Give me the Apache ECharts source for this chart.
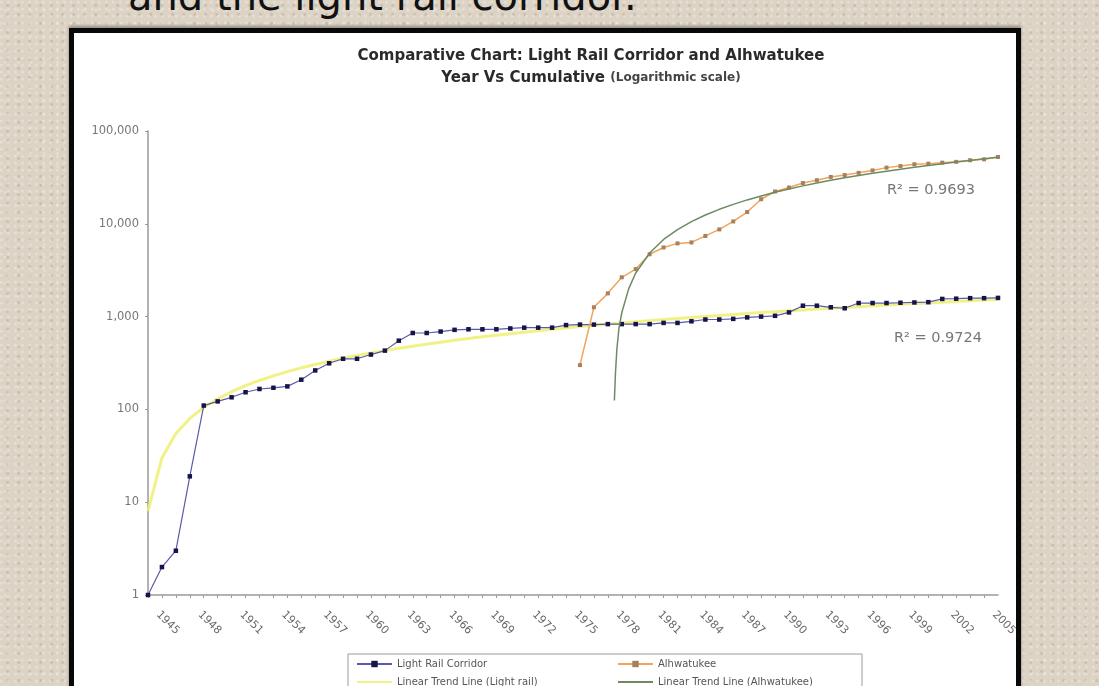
<!DOCTYPE html>
<html>
<head>
<meta charset="utf-8">
<script src="https://cdn.jsdelivr.net/npm/echarts/dist/echarts.min.js"></script>
<style>
  html, body { margin: 0; padding: 0; width: 1099px; height: 686px; overflow: hidden; }
  body {
    position: relative;
    background-color: #dcd3c5;
    background-image:
      radial-gradient(circle at 20% 30%, rgba(255,255,255,0.25) 0 1px, transparent 2px),
      radial-gradient(circle at 70% 60%, rgba(120,100,80,0.18) 0 1px, transparent 2px),
      radial-gradient(circle at 40% 80%, rgba(255,255,255,0.2) 0 1px, transparent 2px);
    background-size: 7px 7px, 11px 9px, 13px 13px;
  }
  #heading {
    position: absolute; left: 128px; top: -24px;
    font: 40px "DejaVu Sans", Verdana, sans-serif; line-height: 40px;
    color: #111; white-space: nowrap;
  }
  #frame {
    position: absolute; left: 69px; top: 28px; width: 942px; height: 700px;
    background: #fff; border: 5px solid #080808;
    box-shadow: 0 -2px 3px rgba(0,0,0,0.35);
  }
  #chart { position: absolute; left: 0; top: 0; width: 1099px; height: 686px; }
</style>
</head>
<body>
<div id="heading">and the light rail corridor.</div>
<div id="frame"></div>
<div id="chart"></div>
<script>
// year categories, one per point (labels every third year)
const years = [1945, 1946, 1947, 1948, 1949, 1950, 1951, 1952, 1953, 1954,
  1955, 1956, 1957, 1958, 1959, 1960, 1961, 1962, 1963, 1964,
  1965, 1966, 1967, 1968, 1969, 1970, 1971, 1972, 1973, 1974,
  1975, 1976, 1977, 1978, 1979, 1980, 1981, 1982, 1983, 1984,
  1985, 1986, 1987, 1988, 1989, 1990, 1991, 1992, 1993, 1994,
  1995, 1996, 1997, 1998, 1999, 2000, 2001, 2002, 2003, 2004,
  2005, 2006];

// cumulative counts, Light Rail Corridor (from first year)
const lightRail = [1, 2, 3, 19, 110, 122, 135, 153, 166, 171,
  177, 209, 263, 314, 351, 351, 390, 430, 550, 666,
  666, 690, 720, 730, 730, 730, 745, 760, 760, 760,
  810, 820, 820, 830, 830, 830, 830, 855, 855, 890,
  930, 930, 945, 980, 1000, 1020, 1110, 1310, 1310, 1260,
  1230, 1400, 1400, 1400, 1410, 1420, 1430, 1550, 1560, 1580,
  1580, 1590];

// cumulative counts, Alhwatukee (starts at index 31)
const ahwStart = 31;
const ahwatukee = [300, 1260, 1780, 2650, 3250, 4700, 5560, 6150, 6300, 7400,
  8700, 10600, 13400, 18400, 22300, 24600, 27500, 29500, 32000, 33500,
  35400, 37600, 40300, 41900, 43800, 44500, 45600, 46500, 48400, 49500,
  52500];

// trend line for light rail, read at each year index
const trendRail = [8, 30, 55, 80, 105, 130, 155, 180, 205, 230,
  255, 280, 305, 330, 355, 380, 405, 430, 455, 480,
  505, 530, 555, 580, 605, 630, 655, 680, 705, 730,
  755, 780, 805, 830, 855, 880, 905, 930, 955, 980,
  1005, 1030, 1055, 1080, 1105, 1130, 1155, 1180, 1205, 1230,
  1255, 1280, 1305, 1330, 1355, 1380, 1405, 1430, 1455, 1480,
  1505, 1530];

// trend line for Alhwatukee: [year index, value]
const trendAhw = [[33.47, 125], [33.55, 250], [33.65, 450], [33.8, 750], [34, 1100],
  [34.5, 2000], [35, 2950], [36, 4850], [37, 6780], [38, 8670], [39, 10550],
  [40, 12430], [41, 14320], [42, 16200], [43, 18090], [44, 19970], [45, 21850],
  [46, 23740], [47, 25620], [48, 27510], [49, 29390], [50, 31270], [51, 33160],
  [52, 35040], [53, 36920], [54, 38810], [55, 40690], [56, 42580], [57, 44460],
  [58, 46340], [59, 48230], [60, 50110], [61, 52000]];

const yTicks = [1, 10, 100, 1000, 10000, 100000];

const chart = echarts.init(document.getElementById('chart'), null, { renderer: 'canvas' });

const font = '"DejaVu Sans", Verdana, sans-serif';

function legendAt(name, left, top, trend) {
  return {
    orient: 'horizontal', left: left, top: top, padding: 0,
    itemWidth: 35, itemHeight: 8,
    data: [trend ? { name: name, itemStyle: { opacity: 0 } } : name],
    textStyle: { fontSize: 10, color: '#555', fontFamily: font }
  };
}

const option = {
  animation: false,
  textStyle: { fontFamily: font },
  title: {
    left: 586,
    top: 40,
    textAlign: 'center',
    text: '{a|Comparative Chart: Light Rail Corridor and Alhwatukee}\n{a|Year Vs Cumulative }{b|(Logarithmic scale)}',
    textStyle: {
      rich: {
        a: { fontSize: 15, fontWeight: 'bold', color: '#2a2a2a', lineHeight: 22, fontFamily: font },
        b: { fontSize: 12, fontWeight: 'bold', color: '#444', lineHeight: 22, fontFamily: font }
      }
    }
  },
  legend: [
    legendAt('Light Rail Corridor', 356, 659, false),
    legendAt('Linear Trend Line (Light rail)', 356, 677, true),
    legendAt('Alhwatukee', 617, 659, false),
    legendAt('Linear Trend Line (Alhwatukee)', 617, 677, true)
  ],
  graphic: [
    {
      type: 'rect', z: 0,
      shape: { x: 348, y: 654, width: 514, height: 60 },
      style: { fill: '#fff', stroke: '#9a9a9a', lineWidth: 1 }
    },
    {
      type: 'text', left: 887, top: 183,
      style: { text: 'R² = 0.9693', fontSize: 14.5, fill: '#777', fontFamily: font }
    },
    {
      type: 'text', left: 894, top: 331,
      style: { text: 'R² = 0.9724', fontSize: 14.5, fill: '#777', fontFamily: font }
    }
  ],
  grid: { left: 148, right: 101, top: 131, bottom: 91, containLabel: false },
  xAxis: {
    type: 'value',
    min: 0,
    max: 61,
    interval: 1,
    splitLine: { show: false },
    axisLine: { lineStyle: { color: '#9a9a9a', width: 1.5 } },
    axisTick: { length: 3, lineStyle: { color: '#9a9a9a' } },
    axisLabel: {
      rotate: -45,
      margin: 8,
      padding: [0, 0, 0, 14],
      fontSize: 11,
      color: '#6a6a6a',
      showMaxLabel: false,
      formatter: (v) => (v % 3 === 0 ? String(years[v]) : '')
    }
  },
  yAxis: {
    type: 'log',
    logBase: 10,
    min: yTicks[0],
    max: yTicks[yTicks.length - 1],
    splitLine: { show: false },
    axisLine: { show: true, lineStyle: { color: '#9a9a9a', width: 1.5 } },
    axisTick: { show: true, length: 3, lineStyle: { color: '#9a9a9a' } },
    axisLabel: {
      fontSize: 11.5,
      color: '#777',
      margin: 9,
      formatter: (v) => Number(v).toLocaleString('en-US')
    }
  },
  series: [
    {
      name: 'Linear Trend Line (Light rail)',
      type: 'line',
      data: trendRail.map((v, i) => [i, v]),
      showSymbol: false,
      symbol: 'none',
      lineStyle: { color: '#eeee70', width: 3, opacity: 0.85 },
      itemStyle: { color: '#eeee70' },
      z: 2
    },
    {
      name: 'Light Rail Corridor',
      type: 'line',
      data: lightRail.map((v, i) => [i, v]),
      symbol: 'rect',
      symbolSize: 4.5,
      lineStyle: { color: '#5a5aa8', width: 1.2 },
      itemStyle: { color: '#14144a' },
      z: 3
    },
    {
      name: 'Alhwatukee',
      type: 'line',
      data: ahwatukee.map((v, i) => [ahwStart + i, v]),
      symbol: 'rect',
      symbolSize: 4,
      lineStyle: { color: '#f2a45a', width: 1.5 },
      itemStyle: { color: '#a8805e' },
      z: 3
    },
    {
      name: 'Linear Trend Line (Alhwatukee)',
      type: 'line',
      data: trendAhw,
      showSymbol: false,
      symbol: 'none',
      lineStyle: { color: '#6f8a62', width: 1.5 },
      itemStyle: { color: '#6f8a62' },
      z: 4
    }
  ]
};

chart.setOption(option);
</script>
</body>
</html>
